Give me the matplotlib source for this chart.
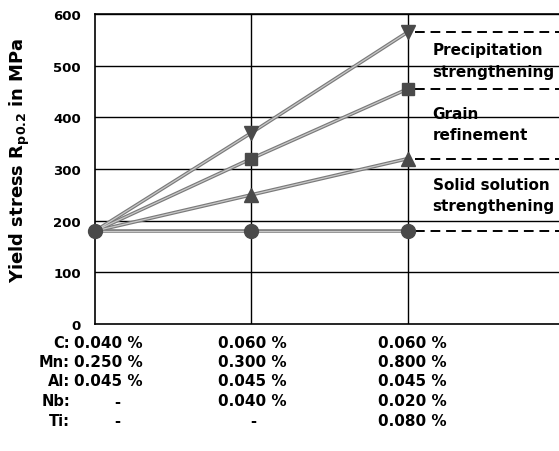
import matplotlib
matplotlib.use("Agg")
import matplotlib.pyplot as plt

# ---- data ----
x_pos = [0, 1, 2]
solid_solution = [180, 180, 180]          # circles
solid_plus = [180, 250, 320]              # triangle up
grain_ref = [180, 320, 455]               # squares
precip = [180, 370, 565]                  # triangle down
band_labels = ["Precipitation\nstrengthening", "Grain\nrefinement", "Solid solution\nstrengthening"]
band_levels = [565, 455, 320, 180]
y_ticks = [0, 100, 200, 300, 400, 500, 600]
elements = ["C:", "Mn:", "Al:", "Nb:", "Ti:"]
comp_col1 = ["0.040 %", "0.250 %", "0.045 %", "-", "-"]
comp_col2 = ["0.060 %", "0.300 %", "0.045 %", "0.040 %", "-"]
comp_col3 = ["0.060 %", "0.800 %", "0.045 %", "0.020 %", "0.080 %"]

plt.rcParams['font.family'] = ['DejaVu Sans']
plt.rcParams['font.weight'] = 'bold'

W, H = 559, 452
fig = plt.figure(figsize=(W/100, H/100), dpi=100)
ax_left, ax_right, ax_top, ax_bot = 95, 564, 15, 325
ax = fig.add_axes([ax_left/W, 1-ax_bot/H, (ax_right-ax_left)/W, (ax_bot-ax_top)/H])
ax.set_xlim(0, 3)
ax.set_ylim(0, 600)
ax.set_yticks(y_ticks)
ax.set_xticks([])
ax.tick_params(axis='y', length=0, pad=10, labelsize=9.5)
for lab in ax.get_yticklabels():
    lab.set_fontweight('bold')
for yv in y_ticks[1:]:
    ax.axhline(yv, color='black', lw=1.0, zorder=1)
for xv in [1, 2]:
    ax.axvline(xv, color='black', lw=1.0, zorder=1)
for s in ['left', 'bottom', 'top']:
    ax.spines[s].set_linewidth(1.2)
ax.spines['right'].set_visible(False)

line_kw = dict(color='#7a7a7a', lw=2.6, zorder=2, solid_capstyle='round')
inner_kw = dict(color='#c8c8c8', lw=0.9, zorder=3)
mk = '#4a4a4a'
series = [(precip, 'v'), (grain_ref, 's'), (solid_plus, '^')]
for vals, m in series:
    ax.plot(x_pos, vals, **line_kw)
    ax.plot(x_pos, vals, **inner_kw)
    ax.plot(x_pos[1:], vals[1:], linestyle='none', marker=m, markersize=10 if m != 's' else 8.5,
            color=mk, zorder=5, clip_on=False)
ax.plot(x_pos, solid_solution, **line_kw)
ax.plot(x_pos, solid_solution, **inner_kw)
ax.plot(x_pos, solid_solution, linestyle='none', marker='o', markersize=10, color=mk,
        zorder=5, clip_on=False)

# dashed band boundaries
for lvl in band_levels:
    ax.plot([2.05, 3], [lvl, lvl], color='black', lw=1.4, linestyle=(0, (5, 3)), zorder=2)

# band labels
for i, lab in enumerate(band_labels):
    yc = (band_levels[i] + band_levels[i+1]) / 2
    ax.text(2.16, yc, lab, ha='left', va='center', fontsize=11, fontweight='bold',
            linespacing=1.5, zorder=6)

ax.set_ylabel(r"Yield stress R$_{\mathbf{p0.2}}$ in MPa", fontsize=13, fontweight='bold')
ax.yaxis.set_label_coords(-63/(ax_right-ax_left), 0.53)

# composition table
row_y = [344, 363, 382, 402, 422]
for i, el in enumerate(elements):
    y = 1 - row_y[i]/H
    fig.text(70/W, y, el, ha='right', va='center', fontsize=10.5, fontweight='bold')
    for col, x0, xdash in [(comp_col1, 74, 117), (comp_col2, 218, 253), (comp_col3, 378, 413)]:
        v = col[i]
        if v == '-':
            fig.text(xdash/W, y, v, ha='center', va='center', fontsize=10.5, fontweight='bold')
        else:
            fig.text(x0/W, y, v, ha='left', va='center', fontsize=11, fontweight='bold')

fig.savefig("out.png", dpi=100)
